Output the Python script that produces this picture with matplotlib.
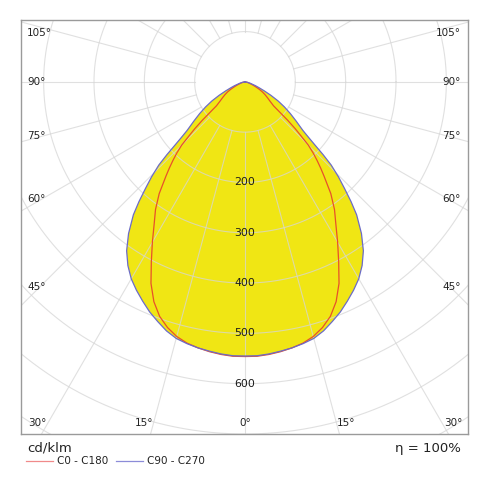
import numpy as np
import matplotlib
matplotlib.use("Agg")
import matplotlib.pyplot as plt

# ---- data (cd/klm) ----
angles_c90 = [0, 2.5, 5, 7.5, 10, 12.5, 15, 17.5, 20, 22.5, 25, 27.5, 30, 32.5, 35,
              37.5, 40, 41.5, 43, 44.5, 46, 47, 48, 49, 50, 52.5, 55, 57.5, 60,
              62.5, 65, 67.5, 70, 75, 80, 85, 90]
c90_c270 = [545, 545, 543, 540, 537, 533, 528, 519, 507, 495, 481, 467, 452, 433, 410,
            380, 345, 318, 290, 265, 238, 212, 185, 165, 150, 128, 110, 93, 76,
            58, 42, 30, 22, 11, 5, 2, 0]
angles_c0 = [0, 2.5, 5, 7.5, 10, 12.5, 15, 17.5, 20, 22.5, 25, 27.5, 30, 32.5, 35,
             37.5, 40, 41.25, 42.5, 43.75, 45, 46, 47, 48, 49, 50, 52.5, 55, 57.5,
             60, 62.5, 65, 67.5, 70, 75, 80, 85, 90]
c0_c180 = [546, 546, 544, 541, 537, 532, 524, 512, 496, 473, 442, 403, 368, 336, 310,
           280, 244, 228, 212, 196, 178, 155, 136, 114, 90, 74, 62, 54, 47,
           40, 32, 24, 18, 13, 7, 3, 1, 0]
radial_ticks = [200, 300, 400, 500, 600]
grid_circles = [100, 200, 300, 400, 500, 600, 700, 800, 900]
spoke_step = 15
side_angle_labels = [105, 90, 75, 60, 45]
side_label_y = [97, 0, -107, -233, -408]
bottom_angle_labels = [30, 15, 0, 15, 30]
bottom_label_x = [-413, -201, 0, 201, 413]
series_names = ["C0 - C180", "C90 - C270"]
series_colors = ["#e8502a", "#6b6bc8"]
legend_colors = ["#f08a8a", "#8c8cd8"]
fill_color = "#f0e614"
efficiency = "η = 100%"
unit = "cd/klm"

XL, XR, YB, YT = -445, 443, -700, 123

fig = plt.figure(figsize=(4.9, 4.9), dpi=100)
ax = fig.add_axes([21 / 490, 56 / 490, 447 / 490, 414 / 490])
ax.set_xlim(XL, XR)
ax.set_ylim(YB, YT)
ax.set_xticks([])
ax.set_yticks([])
for s in ax.spines.values():
    s.set_color("#9a9a9a")
    s.set_linewidth(1.0)


def curve_xy(ang, vals):
    a = np.array(ang, dtype=float)
    v = np.array(vals, dtype=float)
    full_a = np.concatenate([-a[::-1], a[1:]])
    full_v = np.concatenate([v[::-1], v[1:]])
    t = np.radians(full_a)
    return full_v * np.sin(t), -full_v * np.cos(t)


bx, by = curve_xy(angles_c90, c90_c270)
rx, ry = curve_xy(angles_c0, c0_c180)

ax.fill(bx, by, color=fill_color, lw=0, zorder=1)
ax.fill(rx, ry, color=fill_color, lw=0, zorder=1)

# grid
gcol = "#d6d6d6"
th = np.linspace(0, 2 * np.pi, 721)
for r in grid_circles:
    ax.plot(r * np.cos(th), r * np.sin(th), color=gcol, lw=0.8, alpha=0.75, zorder=2)
for a in range(-180, 180, spoke_step):
    t = np.radians(a)
    ax.plot([100 * np.sin(t), 1200 * np.sin(t)], [-100 * np.cos(t), -1200 * np.cos(t)],
            color=gcol, lw=0.8, alpha=0.75, zorder=2)

# curves
ax.plot(bx, by, color=series_colors[1], lw=0.9, zorder=4)
ax.plot(rx, ry, color=series_colors[0], lw=0.9, zorder=3)

# radial labels
for r in radial_ticks:
    ax.text(0, -r, str(r), ha="center", va="center", fontsize=7.8, color="#1a1a1a", zorder=5)

# angle labels
for a, y in zip(side_angle_labels, side_label_y):
    ax.text(-433, y, f"{a}°", ha="left", va="center", fontsize=7.5, color="#222222", zorder=5)
    ax.text(429, y, f"{a}°", ha="right", va="center", fontsize=7.5, color="#222222", zorder=5)
for a, x in zip(bottom_angle_labels, bottom_label_x):
    ax.text(x, -678, f"{a}°", ha="center", va="center", fontsize=7.5, color="#222222", zorder=5)

# footer
fig.text(27 / 490, 1 - 448 / 490, unit, ha="left", va="center", fontsize=9.5, color="#222222")
fig.text(461 / 490, 1 - 448 / 490, efficiency, ha="right", va="center", fontsize=9.5, color="#222222")
ly = 1 - 461 / 490
fig.add_artist(plt.Line2D([26 / 490, 53 / 490], [ly, ly], color=legend_colors[0], lw=0.9))
fig.text(57 / 490, ly, series_names[0], ha="left", va="center", fontsize=7.5, color="#222222")
fig.add_artist(plt.Line2D([116 / 490, 143 / 490], [ly, ly], color=legend_colors[1], lw=0.9))
fig.text(147 / 490, ly, series_names[1], ha="left", va="center", fontsize=7.5, color="#222222")

fig.savefig("out.png", dpi=100)
